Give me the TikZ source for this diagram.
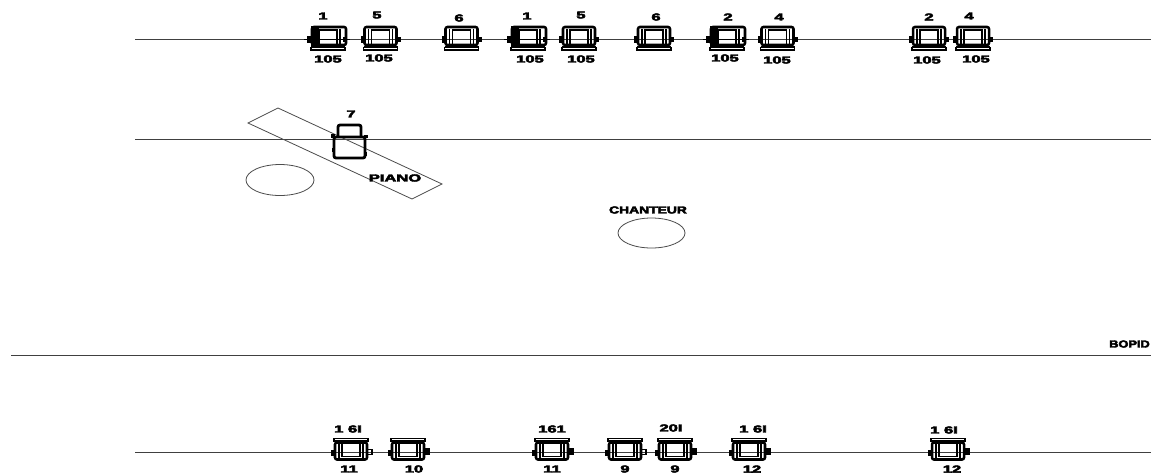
\documentclass[tikz,border=0pt]{standalone}
\usepackage{fontspec}
\setmainfont{Liberation Sans}
\newfontfamily\squatf[FakeBold=4]{Liberation Sans Bold}
\newcommand{\squat}[1]{\scalebox{1.55}[0.95]{\fontsize{8}{8}\squatf #1}}
\newcommand{\squatw}[2]{\scalebox{#1}[0.95]{\fontsize{8}{8}\squatf #2}}
\tikzset{
  x=0.75pt,y=-0.75pt,
  axisline/.style={draw=black!75,line width=0.75pt},
  thinshape/.style={draw=black!70,line width=0.6pt},
  heavy/.style={draw=black,line width=1.9pt},
  lbl/.style={inner sep=0pt,text=black},
  pics/topmotor/.style={code={
    \fill[black] (-20,-3.5) rectangle (-15,3.5);
    \fill[black] (15,-2.5) rectangle (20,2.5);
    \draw[heavy,rounded corners=1.5pt] (-16,-12) rectangle (16,6);
    \draw[black,line width=1.2pt] (-9,-9) rectangle (9,6);
    \draw[black,line width=1.1pt] (-12,-10) -- (-12,6) (12,-10) -- (12,6);
    \draw[black,line width=1.2pt] (-17,8) -- (-17,11) -- (17,11) -- (17,8);
    \draw[black,line width=.8pt] (-17,8) -- (17,8);
  }},
  pics/fatmotor/.style={code={
    \fill[black] (-21,-3.5) rectangle (-15,3.5);
    \fill[black] (15,-2.5) rectangle (19,2.5);
    \fill[black] (-17,-13) rectangle (-9,7);
    \draw[heavy,rounded corners=1.5pt] (-16,-12) rectangle (18,6);
    \draw[black,line width=1.2pt] (-9,-9) rectangle (9,6);
    \draw[black,line width=1.1pt] (12,-10) -- (12,6);
    \draw[black,line width=1.2pt] (-17,8) -- (-17,11) -- (17,11) -- (17,8);
    \draw[black,line width=.8pt] (-17,8) -- (17,8);
  }},
  pics/lowmotor/.style={code={
    \fill[black] (-20,-3) rectangle (-15,3);
    \draw[heavy,rounded corners=1.5pt] (-16,-10) rectangle (16,7);
    \draw[black,line width=1.2pt] (-9,-10) rectangle (9,4);
    \draw[black,line width=1.1pt] (-12,-10) -- (-12,7) (12,-10) -- (12,7);
    \draw[black,line width=1.2pt] (-17,-11) -- (-17,-14) -- (17,-14) -- (17,-11);
    \draw[black,line width=.8pt] (-17,-11.5) -- (17,-11.5);
  }},
  pics/blobend/.style={code={\fill[black] (15,-5) rectangle (22,2.5);}},
  pics/boxend/.style={code={\draw[black,line width=1.3pt] (16,-3) rectangle (21,2);}},
}
\begin{document}
\begin{tikzpicture}
\useasboundingbox (0,0) rectangle (1151,475);
\fill[white] (0,0) rectangle (1151,475);
% rails
\coordinate (r1a) at (135,39);  \coordinate (r1b) at (1151,39);
\coordinate (r2a) at (135,139); \coordinate (r2b) at (1151,139);
\coordinate (r3a) at (11,355);  \coordinate (r3b) at (1151,355);
\coordinate (r4a) at (135,452.5); \coordinate (r4b) at (1151,452.5);
\draw[axisline] (r1a) -- (r1b);
\draw[axisline] (r2a) -- (r2b);
\draw[axisline] (r3a) -- (r3b);
\draw[axisline] (r4a) -- (r4b);
% piano and circles
\draw[thinshape] (278,108) -- (248,123) -- (412,199) -- (442,184) -- cycle;
\draw[thinshape] (280,180) ellipse (34 and 15.5);
\draw[thinshape] (651.5,233) ellipse (33.5 and 15);
% top motors
\foreach \cx/\kind in {328/fatmotor,380.5/topmotor,461.5/topmotor,528/fatmotor,579/topmotor,654/topmotor,727/fatmotor,777.5/topmotor,929/topmotor,973/topmotor}
  \pic at (\cx,39) {\kind};
\foreach \cx in {328,528,727}
  \draw[axisline,black] (\cx-24,39) -- (\cx+22,39);
% vertical motor 7
\draw[heavy,line width=2.1pt,rounded corners=1.5pt] (334,137) -- (334,158) -- (365,158) -- (365,137) -- cycle;
\draw[heavy,line width=2.1pt,rounded corners=1.5pt] (338,137) -- (338,125) -- (361,125) -- (361,137);
\fill[black] (331,134) rectangle (335,138);
\fill[black] (364,135) rectangle (368,138);
\fill[black] (331.5,148) rectangle (335,152);
\fill[black] (364,152) rectangle (367,156);
% bottom motors
\foreach \cx/\kind in {351/boxend,408/blobend,552/blobend,625/boxend,675/blobend,749/blobend,948/blobend}{
  \pic at (\cx,452.5) {lowmotor};
  \pic at (\cx,452.5) {\kind};
}
% labels, top row
\foreach \lx/\ly/\t [count=\i] in {323/16/1,377/15/5,459/18/6,527/16/1,581/15/5,656/17/6,728/17/2,779/17/4,929/17/2,969/16/4}
  \node[lbl] (top\i) at (\lx,\ly) {\squat{\t}};
\foreach \lx/\ly [count=\i] in {328/59,379/58,530/59,581/59,725/58,777/60,927/60,976/59}
  \node[lbl] (pw\i) at (\lx,\ly) {\squat{105}};
\node[lbl] (seven) at (351,114) {\squat{7}};
\node[lbl] (piano) at (395,178) {\squat{PIANO}};
\node[lbl] (chant) at (648,210) {\squatw{1.3}{CHANTEUR}};
\node[lbl,anchor=east] (bopid) at (1150,344) {\squatw{1.2}{BOPID}};
% labels, bottom row
\foreach \lx/\ly/\t [count=\i] in {348/429/1 6I,552/429/161,671/428/20I,753/429/1 6I,944/430/1 6I}
  \node[lbl] (upw\i) at (\lx,\ly) {\squat{\t}};
\foreach \lx/\ly/\t [count=\i] in {349/469/11,414/469/10,552/469/11,625/469/9,675/469/9,752/469/12,952/469/12}
  \node[lbl] (num\i) at (\lx,\ly) {\squat{\t}};
\end{tikzpicture}
\end{document}
